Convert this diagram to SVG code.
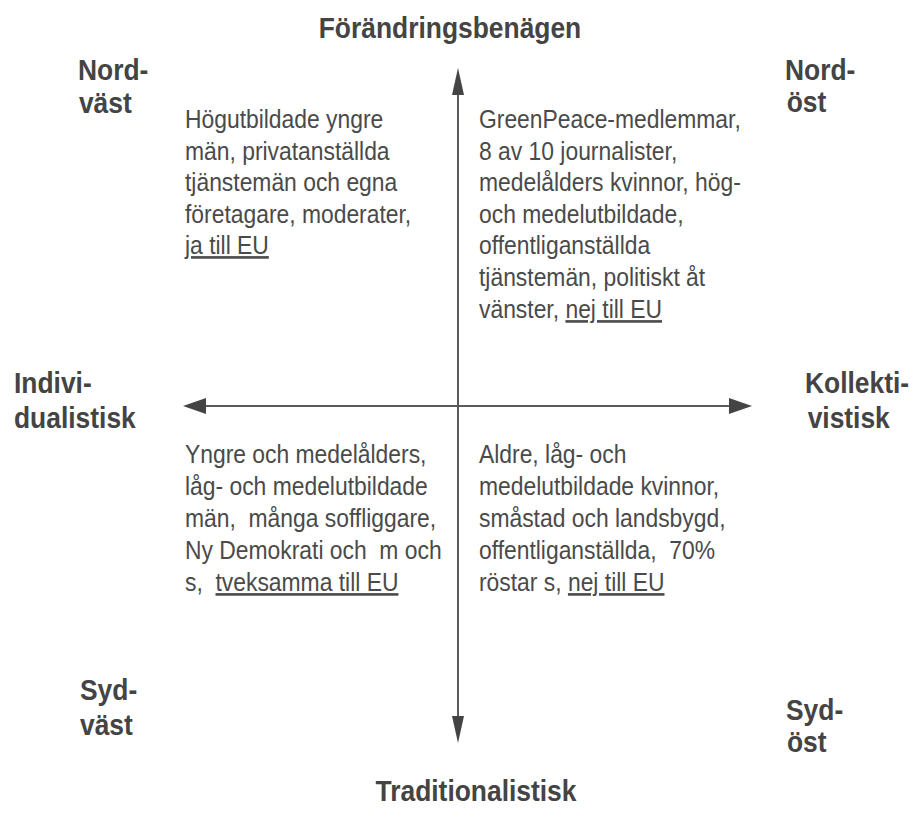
<svg xmlns="http://www.w3.org/2000/svg" width="912" height="828" viewBox="0 0 912 828">
<style>
.lbl{font-family:"Liberation Sans",Arial,sans-serif;font-weight:bold;font-size:30px;fill:#444}
.body{font-family:"Liberation Sans",Arial,sans-serif;font-size:26px;fill:#4a4a4a}
.u{text-decoration:underline}
.axis{stroke:#5a5a5a;stroke-width:2;fill:none}
.head{fill:#444;stroke:none}
</style>
<rect width="912" height="828" fill="#fff"/>
<g id="connectors">
<line class="axis" x1="458" y1="92" x2="458" y2="719"/>
<line class="axis" x1="203" y1="406" x2="732" y2="406"/>
<polygon class="head" points="458,68 452,95 464,95"/>
<polygon class="head" points="458,743 452,716 464,716"/>
<polygon class="head" points="183,406 206,398 206,414"/>
<polygon class="head" points="752,406 729,398 729,414"/>
</g>
<g id="top-label"><text class="lbl" text-anchor="middle" transform="translate(450,38) scale(0.88,1)">Förändringsbenägen</text></g>
<g id="bottom-label"><text class="lbl" text-anchor="middle" transform="translate(476,801) scale(0.88,1)">Traditionalistisk</text></g>
<g id="nordvast" transform="translate(78,0) scale(0.88,1)"><text class="lbl" x="0" y="80">Nord-</text><text class="lbl" x="1" y="113">väst</text></g>
<g id="nordost" transform="translate(785,0) scale(0.88,1)"><text class="lbl" x="0" y="80">Nord-</text><text class="lbl" x="2" y="112">öst</text></g>
<g id="individualistisk" transform="translate(14,0) scale(0.88,1)"><text class="lbl" x="0" y="393">Indivi-</text><text class="lbl" x="0" y="428">dualistisk</text></g>
<g id="kollektivistisk" transform="translate(805,0) scale(0.88,1)"><text class="lbl" x="0" y="393">Kollekti-</text><text class="lbl" x="3" y="428">vistisk</text></g>
<g id="sydvast" transform="translate(80,0) scale(0.88,1)"><text class="lbl" x="0" y="700">Syd-</text><text class="lbl" x="0" y="735">väst</text></g>
<g id="sydost" transform="translate(786,0) scale(0.88,1)"><text class="lbl" x="0" y="720">Syd-</text><text class="lbl" x="1" y="752">öst</text></g>
<g id="nw-text" transform="translate(185,0) scale(0.88,1)">
<text class="body" x="0" y="128">Högutbildade yngre</text>
<text class="body" x="0" y="160">män, privatanställda</text>
<text class="body" x="0" y="191">tjänstemän och egna</text>
<text class="body" x="0" y="223">företagare, moderater,</text>
<text class="body" x="0" y="254"><tspan class="u">ja till EU</tspan></text>
</g>
<g id="ne-text" transform="translate(479,0) scale(0.88,1)">
<text class="body" x="0" y="128">GreenPeace-medlemmar,</text>
<text class="body" x="0" y="160">8 av 10 journalister,</text>
<text class="body" x="0" y="191">medelålders kvinnor, hög-</text>
<text class="body" x="0" y="223">och medelutbildade,</text>
<text class="body" x="0" y="254">offentliganställda</text>
<text class="body" x="0" y="286">tjänstemän, politiskt åt</text>
<text class="body" x="0" y="318">vänster, <tspan class="u">nej till EU</tspan></text>
</g>
<g id="sw-text" transform="translate(185,0) scale(0.88,1)">
<text class="body" x="0" y="463" xml:space="preserve">Yngre och medelålders,</text>
<text class="body" x="0" y="495" xml:space="preserve">låg- och medelutbildade</text>
<text class="body" x="0" y="527" xml:space="preserve">män,  många soffliggare,</text>
<text class="body" x="0" y="559" xml:space="preserve">Ny Demokrati och  m och</text>
<text class="body" x="0" y="591" xml:space="preserve">s,  <tspan class="u">tveksamma till EU</tspan></text>
</g>
<g id="se-text" transform="translate(479,0) scale(0.88,1)">
<text class="body" x="0" y="463" xml:space="preserve">Aldre, låg- och</text>
<text class="body" x="0" y="495" xml:space="preserve">medelutbildade kvinnor,</text>
<text class="body" x="0" y="527" xml:space="preserve">småstad och landsbygd,</text>
<text class="body" x="0" y="559" xml:space="preserve">offentliganställda,  70%</text>
<text class="body" x="0" y="591" xml:space="preserve">röstar s, <tspan class="u">nej till EU</tspan></text>
</g>
</svg>
